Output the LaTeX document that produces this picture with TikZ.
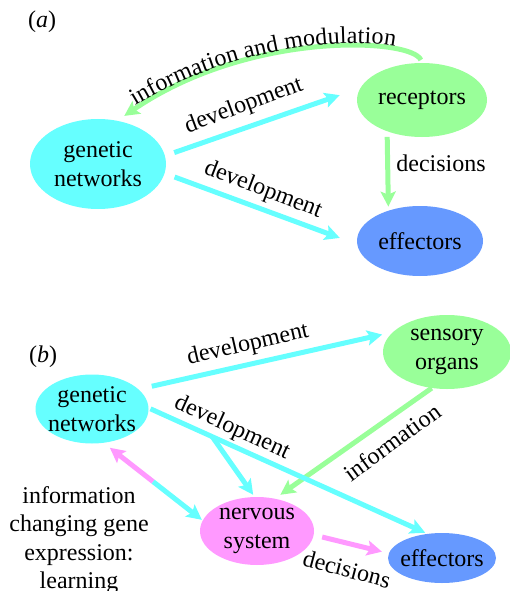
\documentclass[tikz,border=0pt]{standalone}
\usepackage{fontspec}
\setmainfont{Liberation Serif}
\newfontfamily\lserif{Liberation Serif}
\usetikzlibrary{shapes.geometric,arrows.meta,calc,decorations.text}
\definecolor{cyanc}{HTML}{66FFFF}
\definecolor{greenc}{HTML}{99FF99}
\definecolor{bluec}{HTML}{6699FF}
\definecolor{pinkc}{HTML}{FF99FF}
\begin{document}
\begin{tikzpicture}[x=1pt,y=-1pt,
  lbl/.style={font=\lserif\fontsize{24}{28.5}\selectfont, inner sep=0pt},
  blob/.style={ellipse, lbl, inner sep=-6pt, align=center},
  arr/.style={line width=5pt, -{Stealth[length=15pt,width=15pt,inset=3pt]}},
  cyanarr/.style={arr, draw=cyanc},
  greenarr/.style={arr, draw=greenc},
  pinkarr/.style={arr, draw=pinkc}]
\useasboundingbox (0,0) rectangle (510,591);

% ---------- (a) ----------
\node[lbl] (la) at (42,22) {(\textit{a})};
\node[blob, fill=cyanc, minimum width=136pt, minimum height=90pt] (gna) at (98,164) {genetic\\networks};
\node[blob, fill=greenc, minimum width=130pt, minimum height=74pt] (rec) at (422,100) {receptors};
\node[blob, fill=bluec, minimum width=126pt, minimum height=70pt] (effa) at (420,241) {effectors};

\draw[cyanarr, shorten <=9.7pt, shorten >=21.8pt] (gna.7.5) -- (rec.169);
\draw[cyanarr, shorten <=10.5pt, shorten >=18.4pt] (gna.-8.9) -- (effa.183);
\draw[greenarr, shorten <=5.5pt, shorten >=3.9pt] (rec.222.8) -- (effa.136.7);
\draw[greenarr, shorten <=3pt, shorten >=8.4pt] (rec.north) .. controls (412,38) and (250,30) .. (gna.66.7);
\path[decorate, decoration={text along path, text={|\lserif\fontsize{24}{28.5}\selectfont|information and modulation}, raise=3pt, text align={left indent=23pt}}] (gna.66.7) .. controls (250,30) and (412,38) .. (rec.north);

\node[lbl, rotate=20.5] (da1) at (244,106) {development};
\node[lbl, rotate=-21] (da2) at (263,190) {development};
\node[lbl] (dca) at (441,163) {decisions};

% ---------- (b) ----------
\node[lbl] (lb) at (43,357) {(\textit{b})};
\node[blob, fill=cyanc, minimum width=113pt, minimum height=69pt] (gnb) at (92,409) {genetic\\networks};
\node[blob, fill=greenc, minimum width=128pt, minimum height=74pt] (son) at (447,352) {sensory\\organs};
\node[blob, fill=pinkc, minimum width=114pt, minimum height=68pt] (nsb) at (257,531) {nervous\\system};
\node[blob, fill=bluec, minimum width=108pt, minimum height=50pt] (effb) at (442,558) {effectors};

\draw[greenarr, shorten >=6.5pt] (son.247.4) -- (nsb.61.3);
\draw[cyanarr, shorten <=13.5pt, shorten >=10.7pt] (gnb.23.1) -- (son.160.4);
\draw[cyanarr, shorten <=2pt, shorten >=2.4pt] (gnb.1.8) -- coordinate[pos=0.228] (br) (effb.121.7);
\draw[cyanarr, shorten >=2.5pt] (br) -- (nsb.94.4);
\coordinate (mid) at ($(gnb.289.2)!0.5!(nsb.169.1)$);
\draw[pinkarr, shorten >=7.8pt] (mid) -- (gnb.289.2);
\draw[cyanarr, shorten >=1pt] (mid) -- (nsb.169.1);
\draw[pinkarr, shorten <=8.6pt, shorten >=7pt] (nsb.356) -- (effb.175.4);

\node[lbl, rotate=13] (db1) at (248,345) {development};
\node[lbl, rotate=-24.5] (db2) at (232,428) {development};
\node[lbl, rotate=36] (ib) at (392,442) {information};
\node[lbl, rotate=-15] (dcb) at (347,569) {decisions};
\node[lbl, align=center, anchor=north] (learn) at (79,486) {information\\changing gene\\expression:\\learning};
\end{tikzpicture}
\end{document}
